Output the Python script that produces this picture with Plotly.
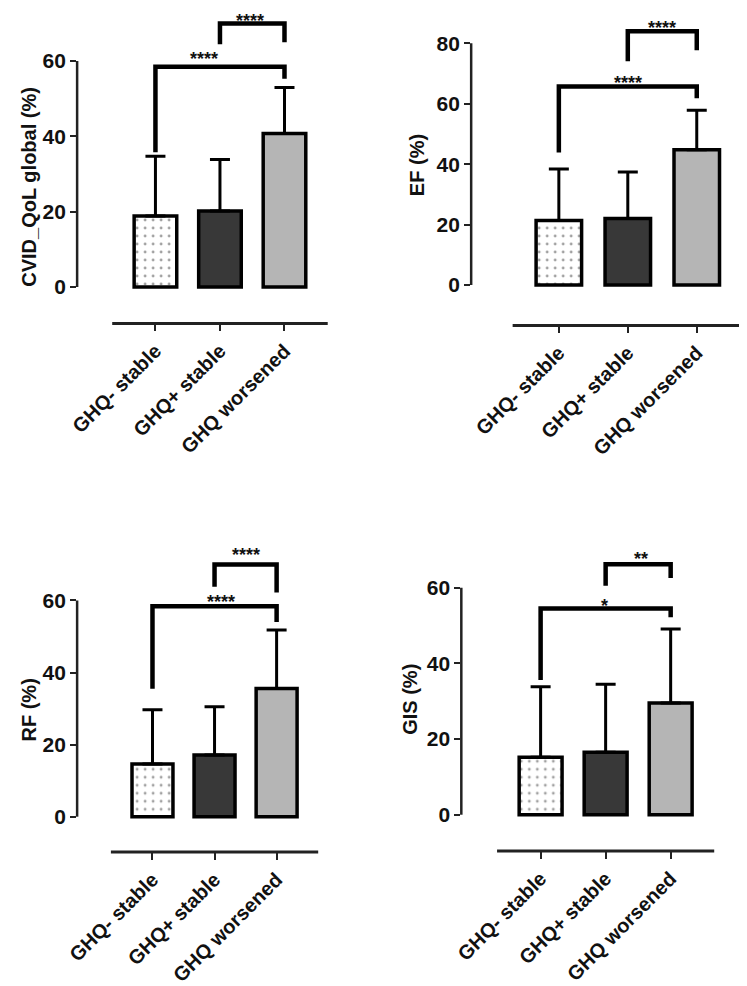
import plotly.graph_objects as go

# ---------------- data ----------------
groups = ["GHQ- stable", "GHQ+ stable", "GHQ worsened"]

titles = ["CVID_QoL global (%)", "EF (%)", "RF (%)", "GIS (%)"]

qol_mean = [18.9, 20.2, 40.8]
qol_sd = [15.8, 13.7, 12.2]

ef_mean = [21.4, 22.0, 44.8]
ef_sd = [17.0, 15.4, 13.1]

rf_mean = [14.6, 17.1, 35.6]
rf_sd = [15.1, 13.4, 16.2]

gis_mean = [15.2, 16.5, 29.5]
gis_sd = [18.6, 18.0, 19.6]

yticks_60 = [0, 20, 40, 60]
yticks_80 = [0, 20, 40, 60, 80]

# significance brackets: (left group, right group, bar height, left leg end, right leg end)
qol_brackets = [(0, 2, 58.5, 35.8, 55.3), (1, 2, 70.0, 64.5, 65.0)]
ef_brackets = [(0, 2, 65.7, 43.9, 61.8), (1, 2, 84.0, 74.1, 77.7)]
rf_brackets = [(0, 2, 58.4, 35.5, 54.0), (1, 2, 70.0, 63.8, 62.2)]
gis_brackets = [(0, 2, 54.5, 35.6, 52.2), (1, 2, 66.2, 60.5, 62.6)]

# significance labels: (text, x in group units, y)
qol_stars = [("****", 0.76, 61.9), ("****", 1.47, 74.7)]
ef_stars = [("****", 1.01, 68.6), ("****", 1.49, 86.8)]
rf_stars = [("****", 1.10, 61.0), ("****", 1.51, 73.9)]
gis_stars = [("*", 0.98, 56.4), ("**", 1.55, 69.0)]

# ---------------- layout helpers ----------------
OFF = 8                      # default page body margin
W, H = 747 - OFF, 986 - OFF  # figure size so it fits the window
FONT = "Liberation Sans, Arial, sans-serif"
STAR_SIZE = 18

panels = [
    dict(mean=qol_mean, sd=qol_sd, ticks=yticks_60, br=qol_brackets, st=qol_stars, title=titles[0],
         px_left=67, px_right=335, c0=146.5, step=65.5, px_top=OFF, px_bot=329, y0px=292, ppu=3.833,
         title_px=18, title_y=26.6),
    dict(mean=ef_mean, sd=ef_sd, ticks=yticks_80, br=ef_brackets, st=ef_stars, title=titles[1],
         px_left=467, px_right=747, c0=556, step=70, px_top=OFF, px_bot=331, y0px=290, ppu=3.075,
         title_px=412, title_y=39.7),
    dict(mean=rf_mean, sd=rf_sd, ticks=yticks_60, br=rf_brackets, st=rf_stars, title=titles[2],
         px_left=67, px_right=335, c0=143.5, step=63, px_top=510, px_bot=867, y0px=831, ppu=3.667,
         title_px=18, title_y=29.7),
    dict(mean=gis_mean, sd=gis_sd, ticks=yticks_60, br=gis_brackets, st=gis_stars, title=titles[3],
         px_left=457, px_right=747, c0=537.5, step=66, px_top=510, px_bot=866, y0px=829, ppu=3.85,
         title_px=405, title_y=30.4),
]

bar_colors = ["white", "#383838", "#b5b5b5"]
pattern_shapes = [".", "", ""]

fig = go.Figure()
shapes = []
annotations = []
layout_axes = {}

for i, p in enumerate(panels):
    n = "" if i == 0 else str(i + 1)
    xa, ya = "x" + n, "y" + n
    xr = [(p["px_left"] - p["c0"]) / p["step"], 2 + (p["px_right"] - (p["c0"] + 2 * p["step"])) / p["step"]]
    yr = [-(p["px_bot"] - p["y0px"]) / p["ppu"], (p["y0px"] - p["px_top"]) / p["ppu"]]
    xdom = [(p["px_left"] - OFF) / W, min(1.0, (p["px_right"] - OFF) / W)]
    ydom = [1 - (p["px_bot"] - OFF) / H, 1 - (p["px_top"] - OFF) / H]

    fig.add_trace(go.Bar(
        x=groups, y=p["mean"], xaxis=xa, yaxis=ya, width=0.66,
        marker=dict(color=bar_colors, line=dict(color="black", width=3.5),
                    pattern=dict(shape=pattern_shapes, fgcolor="#555555", bgcolor=bar_colors,
                                 size=8, solidity=0.1, fillmode="overlay")),
        error_y=dict(type="data", symmetric=False, array=p["sd"], arrayminus=[0, 0, 0],
                     color="black", thickness=3, width=10),
        showlegend=False, hoverinfo="skip",
    ))

    layout_axes["xaxis" + n] = dict(
        domain=xdom, range=xr, anchor=ya, type="category",
        showgrid=False, zeroline=False, showline=False,
        ticks="outside", ticklen=7, tickwidth=2, tickcolor="#222",
        tickangle=-45, tickfont=dict(family=FONT, size=20, color="#111", weight="bold"),
    )
    layout_axes["yaxis" + n] = dict(
        domain=ydom, range=yr, anchor=xa,
        showgrid=False, zeroline=False, showline=False,
        tickmode="array", tickvals=p["ticks"], ticks="outside", ticklen=6, tickwidth=2,
        tickcolor="#222", tickfont=dict(family=FONT, size=21, color="#111", weight="bold"),
    )

    # axis lines (GraphPad style: detached x axis)
    shapes.append(dict(type="line", xref=xa + " domain", yref=ya, x0=0, x1=0,
                       y0=0, y1=max(p["ticks"]), line=dict(color="#222", width=2.5)))
    shapes.append(dict(type="line", xref=xa, yref=ya + " domain", x0=-0.67, x1=2.67,
                       y0=0, y1=0, line=dict(color="#222", width=3)))

    # brackets with their significance labels
    # keep each label's box inside the figure (the page cannot draw above its top)
    star_limit = yr[1] - 8 / p["ppu"]
    for (g0, g1, top, l0, l1), (txt, sx, sy) in zip(p["br"], p["st"]):
        shapes.append(dict(type="path", xref=xa, yref=ya,
                           path=f"M {g0},{l0} L {g0},{top} L {g1},{top} L {g1},{l1}",
                           line=dict(color="black", width=4.5)))
        sy_draw = min(sy, star_limit)
        annotations.append(dict(text=txt, x=sx, y=top, xref=xa, yref=ya, showarrow=False,
                                yanchor="middle", yshift=(sy_draw - top) * p["ppu"] - 5,
                                font=dict(family=FONT, size=STAR_SIZE, color="#111", weight="bold")))

    annotations.append(dict(text=p["title"], x=(p["title_px"] - OFF) / W, y=p["title_y"], xref="paper", yref=ya,
                            showarrow=False, textangle=-90, xanchor="center", yanchor="middle",
                            font=dict(family=FONT, size=20, color="#111", weight="bold")))

fig.update_layout(
    width=W, height=H, margin=dict(l=0, r=0, t=0, b=0),
    paper_bgcolor="white", plot_bgcolor="rgba(0,0,0,0)",
    shapes=shapes, annotations=annotations, bargap=0.3,
    **layout_axes,
)

fig.write_html("out.html")
